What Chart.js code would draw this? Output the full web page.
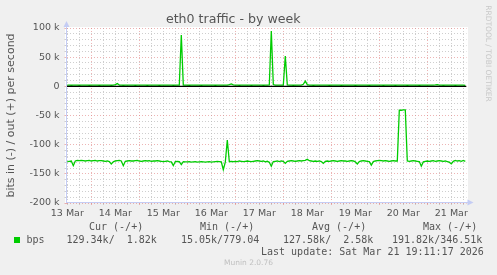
<!DOCTYPE html>
<html><head><meta charset="utf-8">
<script src="https://cdn.jsdelivr.net/npm/chart.js@4/dist/chart.umd.min.js"></script>
<style>html,body{margin:0;padding:0;background:#f0f0f0;}canvas{display:block;}</style>
</head><body>
<canvas id="c" width="497" height="275"></canvas>
<script>
// ---- data ----
const chartTitle = 'eth0 traffic - by week';
const yAxisTitle = 'bits in (-) / out (+) per second';
const watermark = 'RRDTOOL / TOBI OETIKER';
const dayLabels = ['13 Mar','14 Mar','15 Mar','16 Mar','17 Mar','18 Mar','19 Mar','20 Mar','21 Mar'];
// hours counted from 13 Mar 00:00
const xMinHour = 11.6, xMaxHour = 211.6;
const firstLabelHour = 12;
const firstSampleHour = 12, sampleStepHours = 1;
const yMin = -200, yMax = 100, yMinorStep = 10, yMajorStep = 50;

// received traffic (drawn negative), kbit/s, hourly samples
const inValues = [
 -129,-128.5,-128,-136,-128,-127,-127.5,-127,-127.5,-128,
 -127.5,-127,-128,-127.5,-127,-128,-127.5,-127.5,-128,-128.5,
 -128,-129,-133,-129.5,-128,-127.5,-127,-128,-136,-128.5,
 -128,-127.5,-128,-128,-127.5,-127,-128,-128.5,-128,-127.5,
 -128,-127.5,-128.5,-128,-128,-127.5,-128,-128.5,-129,-128.5,
 -128,-129,-129.5,-136,-129,-128.5,-129,-134,-129,-129.5,
 -129.5,-129,-130,-129.5,-129,-130,-129.5,-129,-129.5,-130,
 -129.5,-129,-130,-129.5,-129,-128.5,-129,-129.5,-143,-130,
 -92,-129,-128.5,-129,-128.5,-129,-128,-128.5,-129,-128.5,
 -128,-128.5,-129,-128.5,-128,-127.5,-128,-128.5,-128,-129.5,
 -128.5,-130,-137,-129,-128.5,-128,-129,-128,-128.5,-132,
 -128.5,-128,-127.5,-128,-128.5,-128,-127.5,-128,-127.5,-127,
 -125,-127.5,-128,-128.5,-128,-128.5,-128,-129,-132,-128.5,
 -128,-128.5,-128,-127.5,-128,-128.5,-128,-127.5,-128,-128,
 -128.5,-128,-127.5,-128,-129.5,-133,-129,-128,-127.5,-128,
 -128.5,-129,-135,-129,-128,-127.5,-127,-127.5,-128,-127.5,
 -128,-128.5,-128,-127.5,-128,-128,-41,-41,-40.5,-40.5,
 -128,-128.5,-128,-127.5,-128,-128.5,-129,-137,-129.5,-128.5,
 -128,-128.5,-128,-127.5,-128.5,-128,-127.5,-128,-128.5,-128,
 -129,-130,-133,-128.5,-127,-128,-127.5,-128.5,-127,-128.5
];
// sent traffic (drawn positive), kbit/s, hourly samples
const outValues = [
 2,2.1,1.9,2,2.2,2,1.9,2,2.1,2,
 2,1.9,2,2.1,2,2,1.9,2,2,2.1,
 2,2,1.9,2,3,4.7,2.2,2,1.9,2,
 2,2.1,2,2,1.9,2,2,2.1,2,2,
 1.9,2,2,2.1,2,2,1.9,2,2,2,
 2.1,2,2,1.9,2,2,2.2,88,2.2,2,
 2,1.9,2,2,2.1,2,2,1.9,2,2,
 2,2.1,2,2,1.9,2,2,2,2.1,2,
 2.2,3,4,2.4,2,2,1.9,2,2,2.1,
 2,2,1.9,2,2,2.1,2,2,1.9,2,
 2,2.3,95,3,2,2,2.1,2,2.2,52,
 2.4,2,2,1.9,2,2,2.1,2,3.5,9,
 3,2,2,1.9,2,2,2.1,2,2,2,
 2,1.9,2,2,2.1,2,2,1.9,2,2,
 2,2.1,2,2,1.9,2,2,2,2.1,2,
 2,1.9,2,2,2.1,2,2,2,1.9,2,
 2,2.1,2,2,1.9,2,2,2.1,2,2,
 1.9,2,2,2.1,2,2,1.9,2,2,2,
 2.1,2,2,2,2.4,3,2.2,2,1.9,2,
 2,2.1,2,2,1.9,2,2,2.1,2,1.8
];
const legendSeriesName = 'bps';
const legendHeaders = ['Cur (-/+)','Min (-/+)','Avg (-/+)','Max (-/+)'];
const legendValues = ['129.34k/  1.82k','15.05k/779.04','127.58k/  2.58k','191.82k/346.51k'];
const lastUpdate = 'Last update: Sat Mar 21 19:11:17 2026';
const footer = 'Munin 2.0.76';

// ---- build ----
const sampleHour = i => firstSampleHour + i * sampleStepHours;
const inPts = inValues.map((v, i) => ({x: sampleHour(i), y: v}));
const outPts = outValues.map((v, i) => ({x: sampleHour(i), y: v}));
const xTicks = [];
for (let h = Math.ceil(xMinHour / 6) * 6; h <= xMaxHour; h += 6) xTicks.push(h);
const yTicks = [];
for (let v = yMin; v <= yMax; v += yMinorStep) yTicks.push(v);

const FONT = '#555555';
const GREEN = '#00cc00';
const MINOR = 'rgba(185,185,185,0.7)';
const MAJOR = 'rgba(225,130,130,0.6)';
const AXIS = '#c4ccf4';

const decor = {
  id: 'decor',
  beforeDraw(chart) {
    const {ctx, chartArea: a, width, height} = chart;
    ctx.save();
    ctx.fillStyle = '#f0f0f0';
    ctx.fillRect(0, 0, width, height);
    ctx.fillStyle = '#ffffff';
    ctx.fillRect(a.left - 1.5, a.top - 1, a.right - a.left + 3, a.bottom - a.top + 1);
    ctx.restore();
  },
  afterDraw(chart) {
    const {ctx, chartArea: a} = chart;
    ctx.save();
    // axes with arrows
    ctx.strokeStyle = AXIS; ctx.fillStyle = AXIS; ctx.lineWidth = 1;
    const ax = a.left, ay = a.bottom - 0.5;
    ctx.beginPath(); ctx.moveTo(ax, a.bottom); ctx.lineTo(ax, a.top - 3); ctx.stroke();
    ctx.beginPath(); ctx.moveTo(ax, a.top - 7); ctx.lineTo(ax - 3, a.top - 1); ctx.lineTo(ax + 3, a.top - 1); ctx.closePath(); ctx.fill();
    ctx.beginPath(); ctx.moveTo(ax, ay); ctx.lineTo(a.right + 2, ay); ctx.stroke();
    ctx.beginPath(); ctx.moveTo(a.right + 7, ay); ctx.lineTo(a.right + 1, ay - 3); ctx.lineTo(a.right + 1, ay + 3); ctx.closePath(); ctx.fill();
    // watermark
    ctx.save();
    ctx.translate(487.5, 53.5);
    ctx.rotate(Math.PI / 2);
    ctx.font = '7.5px "DejaVu Sans"';
    ctx.fillStyle = '#c8c8c8';
    ctx.textAlign = 'center'; ctx.textBaseline = 'middle';
    ctx.fillText(watermark, 0, 0);
    ctx.restore();
    // legend
    ctx.font = '10px "DejaVu Sans Mono"';
    ctx.fillStyle = FONT;
    ctx.textAlign = 'left'; ctx.textBaseline = 'middle';
    const headX = [89, 200, 312, 423];
    legendHeaders.forEach((t, i) => ctx.fillText(t, headX[i], 227.5));
    ctx.fillStyle = GREEN;
    ctx.fillRect(14, 237, 6, 6);
    ctx.fillStyle = FONT;
    ctx.fillText(legendSeriesName, 26.5, 240);
    const valX = [66.5, 181, 283, 392];
    legendValues.forEach((t, i) => ctx.fillText(t, valX[i], 240));
    ctx.fillText(lastUpdate, 261, 252);
    ctx.font = '7.5px "DejaVu Sans"';
    ctx.fillStyle = '#c0c0c0';
    ctx.textAlign = 'center';
    ctx.fillText(footer, 248.5, 263.5);
    ctx.restore();
  }
};

new Chart(document.getElementById('c'), {
  type: 'line',
  data: {
    datasets: [
      {label: 'zero', data: [{x: xMinHour, y: 0}, {x: xMaxHour, y: 0}], borderColor: '#000000', borderWidth: 1.3, pointRadius: 0, order: 0},
      {label: 'out', data: outPts, borderColor: GREEN, borderWidth: 1.3, pointRadius: 0, tension: 0, order: 1},
      {label: 'in', data: inPts, borderColor: GREEN, borderWidth: 1.3, pointRadius: 0, tension: 0, order: 2}
    ]
  },
  options: {
    responsive: false,
    animation: false,
    devicePixelRatio: 1,
    layout: {padding: {left: 0, right: 30.5, top: 0, bottom: 0}},
    plugins: {
      legend: {display: false},
      tooltip: {enabled: false},
      title: {
        display: true, text: chartTitle, color: FONT,
        font: {family: 'DejaVu Sans', size: 12.6, weight: 'normal', lineHeight: 1.2},
        padding: {top: 12, bottom: 0.88}
      }
    },
    scales: {
      x: {
        type: 'linear', min: xMinHour, max: xMaxHour,
        afterBuildTicks: s => { s.ticks = xTicks.map(v => ({value: v})); },
        afterFit: s => { s.height = 72; },
        ticks: {
          autoSkip: false, maxRotation: 0, minRotation: 0, padding: 2.5, color: FONT,
          font: {family: 'DejaVu Sans', size: 9.5},
          callback: v => ((v - firstLabelHour) % 24 === 0 ? dayLabels[(v - firstLabelHour) / 24] : '')
        },
        grid: {color: c => (c.tick && c.tick.value % 24 === 0 ? MAJOR : MINOR), lineWidth: 1, drawTicks: true, tickLength: 2},
        border: {display: false, dash: [1, 2]}
      },
      y: {
        type: 'linear', min: yMin, max: yMax,
        afterBuildTicks: s => { s.ticks = yTicks.map(v => ({value: v})); },
        afterFit: s => { s.width = 66.5; },
        ticks: {
          autoSkip: false, padding: 5, color: FONT,
          font: {family: 'DejaVu Sans', size: 9.5},
          callback: v => (v % yMajorStep === 0 ? (v === 0 ? '0' : v + ' k') : '')
        },
        grid: {color: c => (c.tick && c.tick.value % yMajorStep === 0 ? MAJOR : MINOR), lineWidth: 1, drawTicks: true, tickLength: 2},
        border: {display: false, dash: [1, 2]},
        title: {
          display: true, text: yAxisTitle, color: FONT,
          font: {family: 'DejaVu Sans', size: 11},
          padding: {top: 5, bottom: 0}
        }
      }
    }
  },
  plugins: [decor]
});
</script>
</body></html>
